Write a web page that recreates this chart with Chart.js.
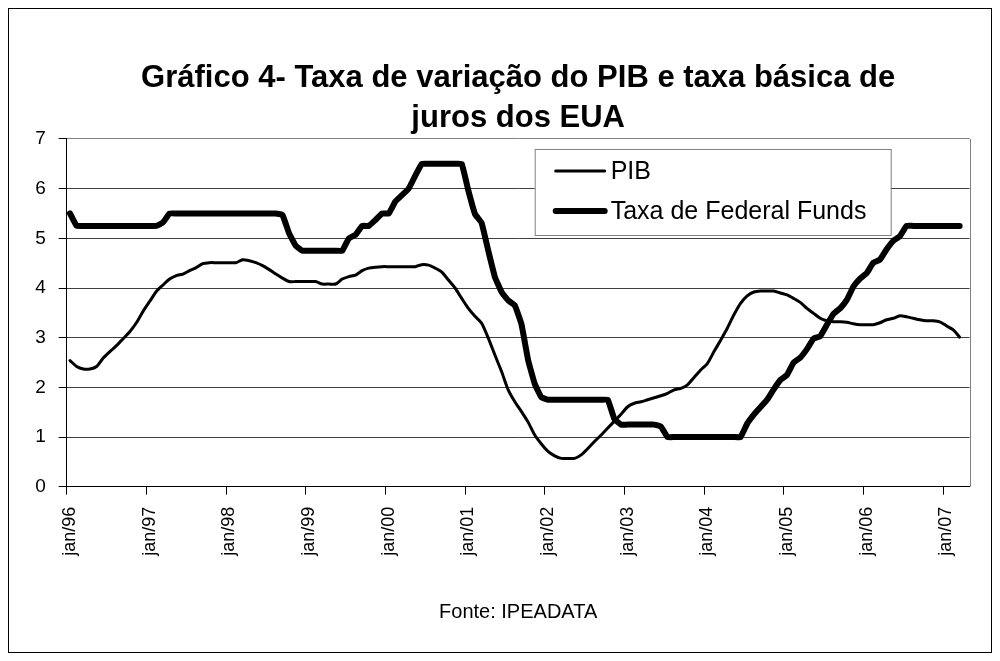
<!DOCTYPE html>
<html>
<head>
<meta charset="utf-8">
<script src="https://cdn.jsdelivr.net/npm/chart.js@4/dist/chart.umd.min.js"></script>
<style>
  html, body { margin: 0; padding: 0; background: #fff; }
  #wrap { position: relative; width: 1000px; height: 661px; }
</style>
</head>
<body>
<div id="wrap"><canvas id="grafico" width="1000" height="661"></canvas></div>
<script>
// ============================== data

const meses = ['jan', 'fev', 'mar', 'abr', 'mai', 'jun', 'jul', 'ago', 'set', 'out', 'nov', 'dez'];
const anos = ['96', '97', '98', '99', '00', '01', '02', '03', '04', '05', '06', '07'];
const totalMeses = 136; // jan/96 .. abr/07

const categorias = [];
anos.forEach(a => meses.forEach(m => {
    if (categorias.length < totalMeses) categorias.push(m + '/' + a);
}));

// taxa de variacao do PIB (%), mensal jan/96 - mar/07
const pib = [
    2.54, 2.42, 2.37, 2.37, 2.42, 2.59, 2.72, 2.84, 2.98, 3.12, 3.30, 3.53,
    3.73, 3.93, 4.06, 4.18, 4.25, 4.28, 4.35, 4.41, 4.49, 4.51, 4.51, 4.51,
    4.51, 4.51, 4.57, 4.55, 4.51, 4.45, 4.37, 4.28, 4.20, 4.13, 4.13, 4.13,
    4.13, 4.13, 4.08, 4.08, 4.08, 4.18, 4.23, 4.26, 4.35, 4.40, 4.42, 4.43,
    4.43, 4.43, 4.43, 4.43, 4.43, 4.47, 4.46, 4.40, 4.32, 4.16, 4.00, 3.79,
    3.59, 3.43, 3.29, 2.99, 2.65, 2.32, 1.95, 1.71, 1.51, 1.30, 1.04, 0.86,
    0.71, 0.62, 0.57, 0.57, 0.57, 0.64, 0.77, 0.91, 1.04, 1.18, 1.32, 1.46,
    1.61, 1.68, 1.71, 1.75, 1.79, 1.83, 1.88, 1.95, 1.98, 2.05, 2.20, 2.35,
    2.48, 2.72, 2.95, 3.19, 3.46, 3.69, 3.84, 3.92, 3.94, 3.94, 3.94, 3.90,
    3.86, 3.79, 3.71, 3.59, 3.49, 3.39, 3.34, 3.32, 3.32, 3.31, 3.28, 3.26,
    3.26, 3.26, 3.30, 3.36, 3.39, 3.44, 3.42, 3.39, 3.36, 3.34, 3.34, 3.32,
    3.24, 3.16, 3.01
];

// taxa de Federal Funds (%), mensal jan/96 - mar/07
const fedFunds = [
    5.50, 5.25, 5.25, 5.25, 5.25, 5.25, 5.25, 5.25, 5.25, 5.25, 5.25, 5.25,
    5.25, 5.25, 5.32, 5.50, 5.50, 5.50, 5.50, 5.50, 5.50, 5.50, 5.50, 5.50,
    5.50, 5.50, 5.50, 5.50, 5.50, 5.50, 5.50, 5.50, 5.47, 5.10, 4.85, 4.75,
    4.75, 4.75, 4.75, 4.75, 4.75, 4.75, 5.00, 5.07, 5.25, 5.25, 5.37, 5.50,
    5.50, 5.74, 5.87, 6.00, 6.26, 6.50, 6.50, 6.50, 6.50, 6.50, 6.50, 6.50,
    5.96, 5.49, 5.31, 4.75, 4.22, 3.92, 3.75, 3.65, 3.27, 2.55, 2.07, 1.80,
    1.75, 1.75, 1.75, 1.75, 1.75, 1.75, 1.75, 1.75, 1.75, 1.75, 1.36, 1.25,
    1.25, 1.25, 1.25, 1.25, 1.25, 1.21, 1.00, 1.00, 1.00, 1.00, 1.00, 1.00,
    1.00, 1.00, 1.00, 1.00, 1.00, 1.00, 1.27, 1.45, 1.60, 1.75, 1.96, 2.15,
    2.25, 2.50, 2.60, 2.77, 2.98, 3.03, 3.26, 3.48, 3.59, 3.76, 4.03, 4.19,
    4.30, 4.51, 4.57, 4.78, 4.95, 5.04, 5.25, 5.25, 5.25, 5.25, 5.25, 5.25,
    5.25, 5.25, 5.25
];

const yTicks = [0, 1, 2, 3, 4, 5, 6, 7];

// ============================== plugins

// white page + outer frame, gray right border of the plot
const moldura = {
    id: 'moldura',
    beforeDraw(chart) {
        const c = chart.ctx;
        c.save();
        c.fillStyle = '#fff';
        c.fillRect(0, 0, chart.width, chart.height);
        c.strokeStyle = '#000';
        c.lineWidth = 1;
        c.strokeRect(8.5, 8.5, 983, 644);
        c.restore();
    },
    beforeDatasetsDraw(chart) {
        const a = chart.chartArea;
        const c = chart.ctx;
        c.save();
        c.strokeStyle = '#808080';
        c.lineWidth = 1;
        c.beginPath();
        c.moveTo(Math.round(a.right) + 0.5, a.top);
        c.lineTo(Math.round(a.right) + 0.5, a.bottom);
        c.stroke();
        c.restore();
    }
};

// legend box inside the plot, like the excel one
const legendaBox = {
    id: 'legendaBox',
    afterDraw(chart) {
        const a = chart.chartArea;
        const c = chart.ctx;
        const x = a.left + 468, y = a.top + 10, w = 356, h = 86;
        c.save();
        c.fillStyle = '#fff';
        c.fillRect(x, y, w, h);
        c.strokeStyle = '#808080';
        c.lineWidth = 1;
        c.strokeRect(x + 0.5, y + 0.5, w, h);
        c.font = "25px 'Liberation Sans', Arial, sans-serif";
        c.textBaseline = 'middle';
        c.fillStyle = '#000';
        chart.data.datasets.forEach((ds, i) => {
            const ly = y + 22 + i * 40;
            c.strokeStyle = ds.borderColor;
            c.lineWidth = ds.borderWidth;
            c.lineCap = 'round';
            c.beginPath();
            c.moveTo(x + 21, ly);
            c.lineTo(x + 70, ly);
            c.stroke();
            c.fillText(ds.label, x + 76, ly + 1);
        });
        c.restore();
    }
};

// ============================== chart

Chart.defaults.font.family = "'Liberation Sans', Arial, sans-serif";
Chart.defaults.color = '#000';

const ctx = document.getElementById('grafico').getContext('2d');
const grafico = new Chart(ctx, {
    type: 'line',
    data: {
        labels: categorias,
        datasets: [
            {
                label: 'PIB',
                data: pib,
                borderColor: '#000',
                borderWidth: 3,
                pointRadius: 0,
                tension: 0.25,
                borderJoinStyle: 'round',
                borderCapStyle: 'round'
            },
            {
                label: 'Taxa de Federal Funds',
                data: fedFunds,
                borderColor: '#000',
                borderWidth: 6,
                pointRadius: 0,
                tension: 0.1,
                borderJoinStyle: 'round',
                borderCapStyle: 'round'
            }
        ]
    },
    options: {
        responsive: false,
        devicePixelRatio: 1,
        animation: false,
        layout: {
            padding: { top: 10, left: 10, right: 30, bottom: 20 }
        },
        plugins: {
            legend: { display: false },
            tooltip: { enabled: false },
            title: {
                display: true,
                fullSize: false,
                text: ['Gráfico 4- Taxa de variação do PIB e taxa básica de', 'juros dos EUA'],
                font: { size: 31, weight: 'bold', lineHeight: 1.29 },
                color: '#000',
                padding: { top: 48, bottom: 1 }
            }
        },
        scales: {
            x: {
                type: 'category',
                offset: true,
                afterFit(scale) { scale.height = 154.3; },
                grid: {
                    offset: true,
                    drawOnChartArea: false,
                    drawTicks: true,
                    tickLength: 8,
                    color: c => (c.index % 12 === 0 ? '#000' : 'rgba(0,0,0,0)')
                },
                border: { color: '#000', width: 1 },
                ticks: {
                    autoSkip: false,
                    minRotation: 90,
                    maxRotation: 90,
                    padding: 12,
                    font: { size: 18 },
                    callback: function (value, index) {
                        return index % 12 === 0 ? this.getLabelForValue(value) : '';
                    }
                },
                title: {
                    display: true,
                    text: 'Fonte: IPEADATA',
                    font: { size: 20 },
                    padding: { top: 0, bottom: 17 }
                }
            },
            y: {
                min: yTicks[0],
                max: yTicks[yTicks.length - 1],
                afterFit(scale) { scale.width = 56.7; },
                afterBuildTicks(scale) { scale.ticks = yTicks.map(v => ({ value: v })); },
                grid: {
                    color: c => (c.tick && c.tick.value === 7 ? '#808080' : '#404040'),
                    tickColor: '#000',
                    tickLength: 8,
                    lineWidth: 1
                },
                border: { color: '#000', width: 1 },
                ticks: {
                    padding: 13,
                    font: { size: 19 }
                }
            }
        }
    },
    plugins: [moldura, legendaBox]
});
</script>
</body>
</html>
